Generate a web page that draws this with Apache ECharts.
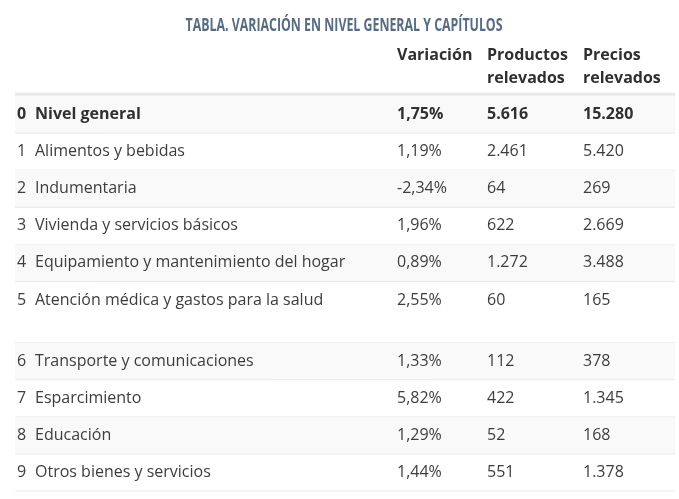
<!DOCTYPE html>
<head>
    <meta charset="utf-8">
    <title>Tabla IPC</title>
    <style>
        html, body { margin: 0; padding: 0; background: #fff; }
    </style>
</head>
<body>

<div id="main" style="height:499px;width:679px"></div>
<script src="https://cdn.jsdelivr.net/npm/echarts@6/dist/echarts.min.js"></script>

<script type="text/javascript">

// datos de la tabla
var titulo = 'TABLA. VARIACIÓN EN NIVEL GENERAL Y CAPÍTULOS';
var encabezados = [['Variación'], ['Productos', 'relevados'], ['Precios', 'relevados']];
var codigos = ['0', '1', '2', '3', '4', '5', '6', '7', '8', '9'];
var capitulos = [
    'Nivel general',
    'Alimentos y bebidas',
    'Indumentaria',
    'Vivienda y servicios básicos',
    'Equipamiento y mantenimiento del hogar',
    'Atención médica y gastos para la salud',
    'Transporte y comunicaciones',
    'Esparcimiento',
    'Educación',
    'Otros bienes y servicios'
];
var variacion = [1.75, 1.19, -2.34, 1.96, 0.89, 2.55, 1.33, 5.82, 1.29, 1.44];
var productos = [5616, 2461, 64, 622, 1272, 60, 112, 422, 52, 551];
var precios = [15280, 5420, 269, 2669, 3488, 165, 378, 1345, 168, 1378];

// formato es-AR
function fmtPct(v) { return v.toFixed(2).replace('.', ',') + '%'; }
function fmtMiles(v) { return String(v).replace(/\B(?=(\d{3})+(?!\d))/g, '.'); }

// la fila 5 sale más alta en la página original
var filaAlta = 5, extraAlta = 0.65;
var colX = [2, 20, 382, 472, 568];   // posiciones de columna (eje x)
var anchoTabla = 660;

var filas = [];
var acum = 0;
for (var i = 0; i < codigos.length; i++) {
    var alto = 1 + (i === filaAlta ? extraAlta : 0);
    filas.push([i, acum, acum + alto]);
    acum += alto;
}

var fuente = '"Open Sans", "Noto Sans", sans-serif';
var colorTexto = '#3d3d3d';

function texto(x, y, str, bold) {
    return {
        type: 'text',
        style: {
            x: x, y: y, text: str,
            fill: bold ? '#303030' : colorTexto,
            font: (bold ? 'bold ' : '') + '16px ' + fuente,
            verticalAlign: 'middle', align: 'left'
        }
    };
}

// el título original usa una fuente condensada: se comprime a lo ancho
var fuenteTitulo = 'bold 18px "Open Sans", sans-serif';
var ctx = document.createElement('canvas').getContext('2d');
ctx.font = fuenteTitulo;
var escalaTitulo = 317 / ctx.measureText(titulo).width;

var myChart = echarts.init(document.getElementById('main'), null, { renderer: 'canvas' });

var option = {
    animation: false,
    graphic: [{
        type: 'text',
        x: 344,
        y: 25.5,
        scaleX: escalaTitulo,
        style: {
            text: titulo,
            font: fuenteTitulo,
            fill: '#586b80',
            align: 'center',
            verticalAlign: 'middle'
        }
    }],
    grid: { left: 15, right: 4, top: 40.4, bottom: 8 },
    xAxis: { type: 'value', min: 0, max: anchoTabla, show: false },
    yAxis: { type: 'value', min: -1.5, max: acum, inverse: true, show: false },
    series: [
        {
            // encabezado
            type: 'custom',
            clip: false,
            data: [[0]],
            renderItem: function (params, api) {
                var hijos = [];
                var lineasY = [-1.105, -0.485];
                for (var k = 0; k < encabezados.length; k++) {
                    var x = api.coord([colX[k + 2], 0])[0];
                    for (var l = 0; l < encabezados[k].length; l++) {
                        var y = api.coord([0, lineasY[l]])[1];
                        hijos.push(texto(x, y, encabezados[k][l], true));
                    }
                }
                var a = api.coord([0, -0.045]);
                var b = api.coord([anchoTabla, -0.045]);
                hijos.push({
                    type: 'line',
                    shape: { x1: a[0], y1: a[1], x2: b[0], y2: b[1] },
                    style: { stroke: '#e8e8e8', lineWidth: 3 }
                });
                return { type: 'group', children: hijos };
            }
        },
        {
            // filas
            type: 'custom',
            clip: false,
            data: filas,
            renderItem: function (params, api) {
                var idx = api.value(0);
                var arriba = api.coord([0, api.value(1)]);
                var abajo = api.coord([anchoTabla, api.value(2)]);
                var yc = api.coord([0, api.value(1) + 0.5])[1];
                var bold = idx === 0;
                var hijos = [];
                if (idx % 2 === 0) {
                    hijos.push({
                        type: 'rect',
                        shape: { x: arriba[0], y: arriba[1], width: abajo[0] - arriba[0], height: abajo[1] - arriba[1] },
                        style: { fill: '#f9f9f9' }
                    });
                }
                hijos.push({
                    type: 'line',
                    shape: { x1: arriba[0], y1: abajo[1], x2: abajo[0], y2: abajo[1] },
                    style: { stroke: '#e9e9e9', lineWidth: 1 }
                });
                var celdas = [codigos[idx], capitulos[idx], fmtPct(variacion[idx]),
                              fmtMiles(productos[idx]), fmtMiles(precios[idx])];
                for (var c = 0; c < celdas.length; c++) {
                    var x = api.coord([colX[c], 0])[0];
                    hijos.push(texto(x, yc, celdas[c], bold));
                }
                return { type: 'group', children: hijos };
            }
        }
    ]
};

myChart.setOption(option);
window.onresize = myChart.resize;
</script>
</body>
